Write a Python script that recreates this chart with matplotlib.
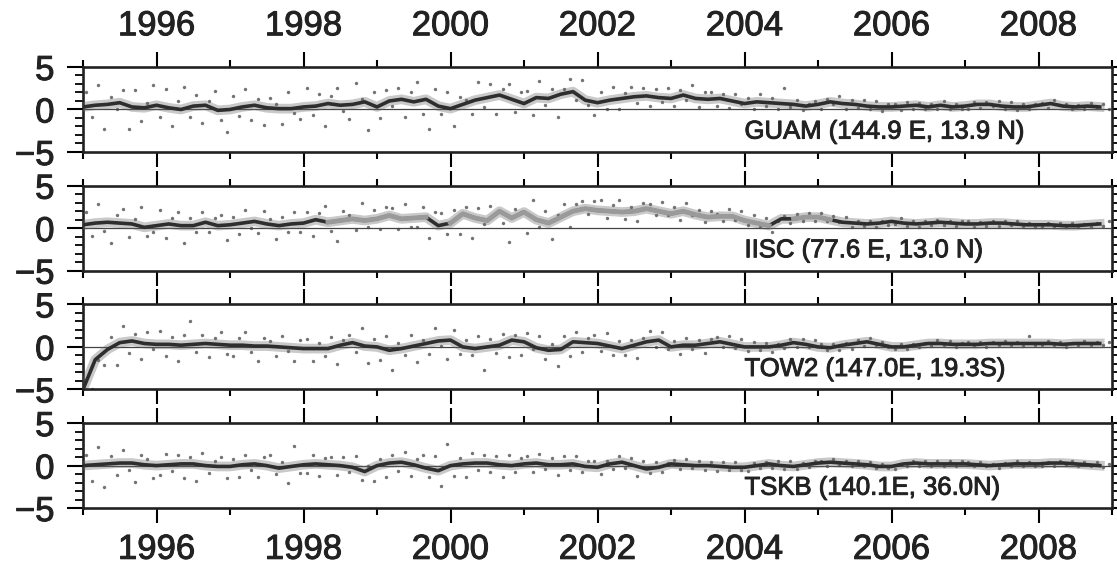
import numpy as np
import matplotlib
matplotlib.use('Agg')
import matplotlib.pyplot as plt
import matplotlib.patheffects as pe
from matplotlib.ticker import MultipleLocator

plt.rcParams['font.family'] = ['Liberation Sans', 'DejaVu Sans']

# station labels, top to bottom
stations = ['GUAM (144.9 E, 13.9 N)', 'IISC (77.6 E, 13.0 N)',
            'TOW2 (147.0E, 19.3S)', 'TSKB (140.1E, 36.0N)']

year_labels = [1996, 1998, 2000, 2002, 2004, 2006, 2008]
odd_years = [1995, 1997, 1999, 2001, 2003, 2005, 2007, 2009]

# smoothed series, six samples per year starting 1995.0
guam_trend = [
    0.3, 0.5, 0.6, 0.8, 0.3, 0.2,
    0.5, 0.2, 0.0, 0.4, 0.5, -0.1,
    0.0, 0.3, 0.5, 0.2, 0.1, 0.1,
    0.3, 0.4, 0.7, 0.5, 0.6, 0.9,
    0.3, 1.0, 1.2, 0.9, 1.2, 0.4,
    0.1, 0.6, 1.1, 1.4, 1.7, 1.2,
    0.7, 1.4, 1.3, 1.8, 2.1, 1.1,
    0.8, 1.1, 1.3, 1.5, 1.6, 1.4,
    1.3, 1.7, 1.3, 1.2, 1.3, 1.0,
    0.7, 0.9, 0.8, 0.7, 0.6, 0.4,
    0.6, 0.9, 0.7, 0.6, 0.4, 0.3,
    0.3, 0.4, 0.5, 0.3, 0.5, 0.3,
    0.4, 0.6, 0.6, 0.4, 0.3, 0.3,
    0.5, 0.7, 0.4, 0.3, 0.4, 0.3,
]
iisc_trend = [
    0.4, 0.6, 0.7, 0.6, 0.5, 0.1,
    0.3, 0.5, 0.3, 0.3, 0.7, 0.3,
    0.4, 0.6, 0.8, 0.5, 0.3, 0.5,
    0.6, 1.0, 0.7, 0.9, 1.1, 0.9,
    1.1, 1.5, 1.1, 1.2, 1.3, 0.3,
    0.6, 1.7, 1.2, 0.9, 2.0, 1.2,
    1.9, 1.0, 0.6, 1.3, 2.0, 2.3,
    2.1, 2.0, 1.9, 2.0, 2.3, 2.0,
    1.7, 2.0, 1.6, 1.3, 1.4, 1.4,
    0.9, 0.6, 0.3, 1.1, 1.1, 1.3,
    1.3, 1.0, 0.7, 0.6, 0.5, 0.6,
    0.8, 0.6, 0.5, 0.6, 0.7, 0.6,
    0.5, 0.5, 0.6, 0.6, 0.5, 0.4,
    0.4, 0.4, 0.3, 0.3, 0.4, 0.5,
]
tow2_trend = [
    -5.0, -1.5, -0.3, 0.5, 0.7, 0.4,
    0.3, 0.3, 0.2, 0.3, 0.4, 0.3,
    0.2, 0.2, 0.1, 0.1, 0.0, -0.1,
    -0.2, -0.2, -0.2, 0.2, 0.5, 0.1,
    0.0, -0.4, -0.2, 0.1, 0.4, 0.7,
    0.8, 0.0, -0.2, 0.0, 0.2, 0.8,
    0.6, -0.1, -0.4, -0.3, 0.6, 0.5,
    0.4, 0.1, -0.2, 0.2, 0.6, 0.8,
    0.0, 0.2, 0.2, 0.4, 0.6, 0.3,
    0.0, 0.0, 0.0, 0.2, 0.5, 0.3,
    0.0, -0.1, 0.2, 0.4, 0.6, 0.3,
    0.0, 0.0, 0.2, 0.4, 0.4, 0.3,
    0.3, 0.3, 0.4, 0.4, 0.4, 0.4,
    0.4, 0.4, 0.3, 0.4, 0.4, 0.4,
]
tskb_trend = [
    0.0, 0.1, 0.2, 0.3, 0.3, 0.1,
    0.0, 0.1, 0.2, 0.2, 0.0, -0.1,
    -0.1, 0.1, 0.2, 0.0, -0.3, -0.1,
    0.1, 0.2, 0.1, 0.0, -0.2, -0.7,
    0.0, 0.3, 0.4, 0.1, -0.3, -0.6,
    0.0, 0.2, 0.3, 0.3, 0.1, 0.0,
    0.2, 0.3, 0.1, 0.1, 0.2, -0.1,
    -0.2, 0.2, 0.4, 0.0, -0.4, -0.2,
    0.2, 0.1, 0.0, 0.0, -0.1, -0.2,
    -0.2, 0.0, 0.2, 0.0, -0.1, 0.1,
    0.3, 0.4, 0.3, 0.2, 0.1, -0.1,
    -0.1, 0.2, 0.3, 0.2, 0.2, 0.2,
    0.2, 0.1, 0.0, 0.1, 0.2, 0.2,
    0.2, 0.3, 0.3, 0.2, 0.1, 0.0,
]

# monthly solutions, given as departures from the smoothed series
guam_resid = [
    1.8, -1.2, 2.4, -2.8, 0.9, -0.6, 1.5, -3.1, 2.0, -1.7, 0.6, 2.7,
    -1.4, 1.9, -2.2, 0.8, 2.6, -0.9, 1.3, -2.0, 0.5, 1.7, -1.1, -2.6,
    1.6, -0.8, 2.1, -1.5, 0.7, -2.3, 1.2, 0.4, -1.8, 1.9, -0.5, -1.2,
    2.2, -1.0, 1.4, -2.4, 0.9, 1.8, -0.7, -1.6, 2.5, 0.6, -3.3, 1.1,
    -1.3, 2.0, -0.6, 1.5, -2.1, 0.8, 2.3, -1.4, -3.5, 1.2, -0.9, 1.7,
    -2.0, 1.4, 0.5, -1.1, 2.1, -0.8, 1.6, -1.9, 0.7, 1.3, -1.5, 0.9,
    1.5, -1.3, 2.0, -0.9, 1.1, -2.2, 0.6, 1.8, -1.0, 1.4, -0.6, -1.7,
    1.2, -0.8, 1.5, -1.1, 0.6, 1.3, -0.7, 1.0, -1.2, 0.8, -0.5, 1.1,
    -0.9, 1.0, -0.6, 1.2, -1.0, 0.7, 0.9, -0.8, 0.5, -1.1, 0.8, -0.4,
    0.7, -0.6, 0.9, -0.5, 0.6, -0.8, 1.8, -0.4, 0.5, -0.7, 0.3, 0.6,
    -0.5, 0.6, -0.3, 0.7, -0.6, 0.4, -0.4, 0.5, -0.3, 0.6, -0.5, 0.3,
    0.4, -0.4, 0.5, -0.3, 0.3, -0.5, 0.4, -0.2, 0.5, -0.4, 0.3, -0.3,
    -0.3, 0.5, -0.4, 0.3, -0.2, 0.4, -0.3, 0.5, -0.4, 0.3, -0.2, 0.4,
    0.3, -0.3, 0.4, -0.2, 0.3, -0.4, 0.2, -0.3, 0.4, -0.2, 0.3, -0.3,
]
iisc_resid = [
    1.5, -1.3, 2.2, -0.9, -2.4, 0.8, 1.7, -1.6, 0.6, 2.0, -1.0, -0.5,
    1.8, -1.5, 0.7, 1.4, -2.0, 0.9, -0.8, 1.6, -1.2, 0.5, 1.3, -1.7,
    0.9, -1.1, 1.5, -0.6, -1.4, 1.2, 0.6, -1.8, 1.0, -0.7, 1.4, -0.9,
    1.3, -1.5, 0.8, 1.6, -1.0, -2.2, 1.1, 0.7, -1.3, 1.9, -0.8, 1.2,
    -1.2, 1.4, 0.9, -1.6, 1.7, -0.9, -1.1, 1.3, -2.4, 0.6, 1.5, -1.0,
    1.6, -1.3, 0.8, -2.8, 1.2, -0.7, 1.7, 0.9, -1.4, -3.6, 1.1, 0.7,
    -2.5, 1.4, -0.8, 1.0, -1.9, 0.9, 1.5, -1.1, 0.8, 1.2, -0.6, 0.9,
    1.2, -0.9, 0.7, 1.3, -0.8, 0.6, -1.1, 1.0, 0.5, -0.7, 1.1, -0.5,
    0.8, -0.7, 1.0, -0.5, 0.6, -0.9, 0.7, 0.4, -0.6, 0.9, -0.4, 0.6,
    -0.5, 0.7, -0.4, 0.6, -0.7, 0.5, 0.3, -0.5, 0.6, -0.3, 0.5, -0.4,
    0.5, -0.4, 0.4, -0.3, 0.6, -0.5, 0.3, -0.3, 0.4, -0.4, 0.3, -0.2,
    -0.3, 0.4, -0.3, 0.3, -0.4, 0.3, -0.2, 0.4, -0.3, 0.2, -0.3, 0.3,
    0.3, -0.3, 0.2, -0.2, 0.3, -0.3, 0.2, -0.2, 0.3, -0.2, 0.2, -0.3,
    -0.2, 0.2, -0.3, 0.2, -0.2, 0.3, -0.2, 0.2, -0.3, 0.2, -0.2, 0.3,
]
tow2_resid = [
    0.0, 0.0, 0.0, -0.6, 1.5, -1.8, 2.0, -1.2, 0.8, -2.1, 1.3, -0.7,
    1.6, -1.4, 0.9, -2.0, 1.2, 2.8, -0.9, 1.1, -1.6, 0.6, 1.4, -1.1,
    -1.3, 0.8, 1.5, -0.8, -1.7, 1.0, 0.6, -1.2, 1.3, -0.5, -1.5, 0.9,
    1.1, -1.4, 0.7, -0.9, 1.4, -1.8, 0.6, 1.2, -1.1, 1.7, -2.0, 0.8,
    -1.5, 1.3, -2.3, 0.9, -0.8, 1.6, -1.9, 0.7, -1.2, 1.8, -0.6, -2.1,
    1.2, -1.6, 0.8, -1.0, 1.5, -2.5, 0.9, -0.7, 1.3, -1.4, 0.6, -1.8,
    1.0, -0.9, 1.4, -1.3, 0.7, -1.9, 1.6, -0.8, 1.1, -1.2, 0.5, 0.9,
    -0.9, 1.2, -1.1, 0.6, -0.7, 1.0, -1.5, 0.8, 1.3, -0.6, 0.9, -1.0,
    0.7, -0.8, 0.9, -0.5, 0.6, -0.9, 0.5, 0.8, -0.6, 0.7, -0.4, 0.6,
    -0.5, 0.6, -0.4, 0.5, -0.6, 0.4, -0.3, 0.7, -0.5, 0.4, -0.3, 0.5,
    0.4, -0.4, 0.5, -0.3, 0.3, -0.5, 0.4, -0.3, 0.5, -0.4, 0.3, -0.3,
    -0.3, 0.4, -0.3, 0.3, -0.2, 0.3, -0.3, 0.4, -0.2, 0.3, -0.3, 0.2,
    0.3, -0.2, 0.3, -0.3, 0.2, -0.2, 0.3, -0.2, 0.2, -0.3, 0.9, -0.2,
    -0.2, 0.3, -0.2, 0.2, -0.3, 0.2, -0.2, 0.3, -0.2, 0.2, -0.2, 0.2,
]
tskb_resid = [
    1.2, -1.8, 2.1, -2.6, 0.9, -1.3, 1.5, -0.8, -2.2, 1.0, 0.7, -1.5,
    -1.1, 1.4, -0.7, 1.2, -1.6, 0.8, -2.0, 1.3, -0.9, 0.6, 1.1, -1.3,
    0.9, -1.2, 1.1, -0.6, -1.5, 0.8, 1.2, -1.0, 0.7, -1.7, 2.4, -0.8,
    -1.0, 1.1, -1.4, 0.7, 0.9, -1.2, 1.0, -0.8, 1.3, -1.5, 0.6, -1.1,
    0.8, -1.3, 1.0, -0.9, 1.2, -1.6, 0.7, 1.1, -1.0, 1.4, -1.8, 3.1,
    -1.2, 0.9, -1.5, 1.3, -0.8, 1.0, -1.1, 0.8, -1.4, 1.2, -0.7, 0.9,
    0.9, -1.0, 1.1, -0.7, 0.8, -1.2, 1.0, -0.6, 0.9, -0.9, 0.7, 0.6,
    -0.8, 0.7, -0.6, 0.9, -0.7, 0.5, -1.2, 0.6, -0.5, 0.8, -0.6, 0.5,
    0.5, -0.6, 0.7, -0.4, 0.5, -0.5, 0.4, -0.6, 0.5, -0.4, 0.6, -0.3,
    -0.4, 0.5, -0.3, 0.4, -0.5, 0.3, -0.4, 0.5, -0.3, 0.4, -0.3, 0.4,
    0.3, -0.4, 0.4, -0.3, 0.3, -0.3, 0.4, -0.2, 0.3, -0.4, 0.3, -0.2,
    -0.3, 0.3, -0.2, 0.3, -0.3, 0.2, -0.3, 0.3, -0.2, 0.3, -0.2, 0.3,
    0.2, -0.3, 0.3, -0.2, 0.2, -0.3, 0.2, -0.2, 0.3, -0.2, 0.2, -0.2,
    -0.2, 0.2, -0.3, 0.2, -0.2, 0.3, -0.2, 0.2, -0.2, 0.3, -0.2, 0.2,
]

# periods where the IISC series comes from the second solution (drawn lighter)
iisc_light = [(1998.2, 1999.8), (2000.0, 2004.4), (2004.6, 2005.3)]

trends = [guam_trend, iisc_trend, tow2_trend, tskb_trend]
resids = [guam_resid, iisc_resid, tow2_resid, tskb_resid]

t_trend = 1995.0 + np.arange(84) / 6.0
t_month = 1995.0 + (np.arange(168) + 0.5) / 12.0

# slightly heavier type, like the printed original
heavy = [pe.withStroke(linewidth=0.7, foreground='#222222')]

W, H = 1117, 571
fig = plt.figure(figsize=(W / 100, H / 100), dpi=100)

for k in range(4):
    top = 67 + k * 118.7
    ax = fig.add_axes([83 / W, 1 - (top + 85) / H, 1029 / W, 85 / H])

    tr = np.array(trends[k])
    pts = tr[np.arange(168) // 2] + np.array(resids[k])

    ax.axhline(0, color='#444444', lw=0.9, zorder=3)
    ax.scatter(t_month, pts, s=6, color='#444444', alpha=0.75, linewidths=0, zorder=2)
    ax.plot(t_trend, tr, color='#666666', lw=7, alpha=0.35, zorder=3)
    ax.plot(t_trend, tr, color='#2e2e2e', lw=2.6, zorder=4)
    if k == 1:
        for a, b in iisc_light:
            m = (t_trend >= a) & (t_trend <= b)
            ax.plot(t_trend[m], tr[m], color='#9a9a9a', lw=3.4, zorder=5)

    ax.text(2004.0, -2.6, stations[k], fontsize=18.5, ha='left', va='center',
            color='#222222', zorder=6, path_effects=heavy)

    ax.set_xlim(1995, 2009)
    ax.set_ylim(-5, 5)
    ax.set_xticks(year_labels)
    ax.set_xticks(odd_years, minor=True)
    ax.set_yticks([-5, 0, 5])
    ax.yaxis.set_minor_locator(MultipleLocator(1))

    ax.tick_params(axis='x', which='major', direction='out', length=10.8, width=1.5,
                   top=True, bottom=True, labeltop=(k == 0), labelbottom=(k == 3),
                   labelsize=25, pad=7)
    ax.tick_params(axis='x', which='minor', direction='out', length=5, width=1.5,
                   top=True, bottom=True)
    ax.tick_params(axis='y', which='major', direction='out', length=11.5, width=1.5,
                   right=True, labelsize=25, pad=9)
    ax.tick_params(axis='y', which='minor', direction='out', length=5.5, width=1.3,
                   left=True, right=True)
    for lab in ax.get_xticklabels() + ax.get_yticklabels():
        lab.set_path_effects(heavy)
        lab.set_color('#222222')
    for sp in ax.spines.values():
        sp.set_linewidth(1.9)
        sp.set_color('#222222')

fig.savefig('out.png', dpi=100)
